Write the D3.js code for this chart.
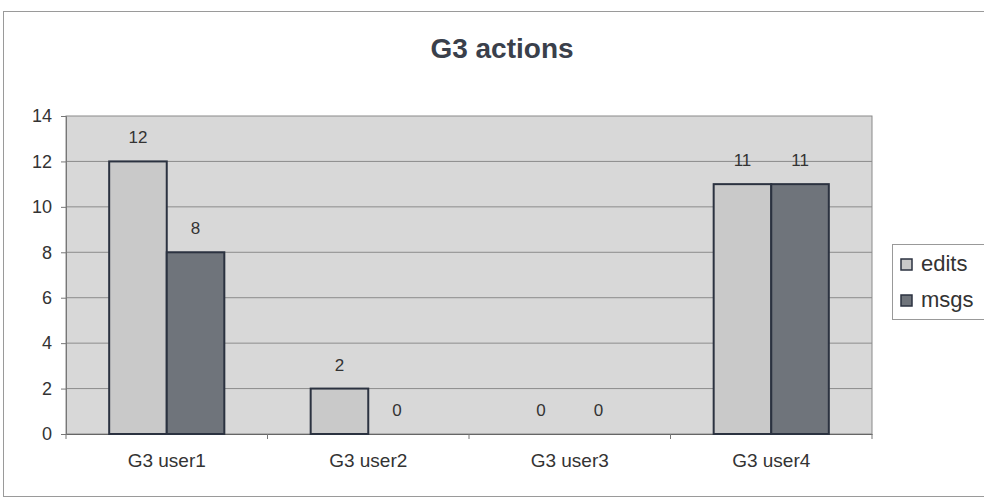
<!DOCTYPE html>
<html><head><meta charset="utf-8">
<script src="https://cdn.jsdelivr.net/npm/d3@7"></script>
<style>body{margin:0;background:#fff}svg{display:block}text{font-family:"Liberation Sans",Arial,sans-serif}</style>
</head><body><svg id="c" width="984" height="499"></svg>
<script>
const categories = ["G3 user1","G3 user2","G3 user3","G3 user4"];
const seriesNames = ["edits","msgs"];
const edits = [12,2,0,11];
const msgs = [8,0,0,11];
const yTicks = [0,2,4,6,8,10,12,14];
const colors = {edits:"#c9c9c9", msgs:"#6f747b"};

const svg = d3.select("#c");
// outer frame
svg.append("rect").attr("x",3.5).attr("y",11.5).attr("width",1000).attr("height",485)
  .attr("fill","#fff").attr("stroke","#9a9a9a");
svg.append("text").attr("x",502).attr("y",58).attr("text-anchor","middle")
  .attr("font-size",28).attr("font-weight","bold").attr("fill","#3a404b").text("G3 actions");

const L=66,R=872,T=116,B=434;
const x = d3.scaleBand().domain(categories).range([L,R]).paddingInner(0).paddingOuter(0);
const y = d3.scaleLinear().domain([0,14]).range([B,T]);
const bw = x.bandwidth()/3.5;

svg.append("rect").attr("x",L).attr("y",T).attr("width",R-L).attr("height",B-T)
  .attr("fill","#d8d8d8").attr("stroke","#8a8a8a");
svg.append("g").selectAll("line").data(yTicks.filter(d=>d>0&&d<14)).join("line")
  .attr("x1",L).attr("x2",R).attr("y1",d=>y(d)).attr("y2",d=>y(d))
  .attr("stroke","#8c8c8c").attr("stroke-width",1);

const yAxis = d3.axisLeft(y).tickValues(yTicks).tickSize(5).tickPadding(9);
const gy = svg.append("g").attr("transform",`translate(${L},0)`).call(yAxis);
gy.selectAll("text").attr("font-size",18).attr("fill","#333");
gy.selectAll("line,path").attr("stroke","#777");

const xAxis = d3.axisBottom(x).tickSize(0).tickPadding(20);
const gx = svg.append("g").attr("transform",`translate(0,${B})`).call(xAxis);
gx.selectAll("text").attr("font-size",19).attr("fill","#333");
gx.select("path").attr("stroke","#666");
svg.append("g").selectAll("line").data(d3.range(categories.length+1)).join("line")
  .attr("x1",i=>L+i*x.step()).attr("x2",i=>L+i*x.step()).attr("y1",B).attr("y2",B+5).attr("stroke","#777");

const data = [];
categories.forEach((c,i)=>{
  data.push({c,s:"edits",v:edits[i],k:0});
  data.push({c,s:"msgs",v:msgs[i],k:1});
});
const bx = d=> x(d.c)+x.bandwidth()/2 - bw + d.k*bw;
svg.append("g").selectAll("rect").data(data.filter(d=>d.v>0)).join("rect")
  .attr("x",bx).attr("y",d=>y(d.v)).attr("width",bw).attr("height",d=>B-y(d.v))
  .attr("fill",d=>colors[d.s]).attr("stroke","#2b3240").attr("stroke-width",2);
svg.append("g").selectAll("text").data(data).join("text")
  .attr("x",d=>bx(d)+bw/2).attr("y",d=>y(d.v)-18).attr("text-anchor","middle")
  .attr("font-size",17).attr("fill","#333").text(d=>d.v);

// legend
const lg = svg.append("g");
lg.append("rect").attr("x",892.5).attr("y",244.5).attr("width",110).attr("height",75)
  .attr("fill","#fff").attr("stroke","#999");
seriesNames.forEach((s,i)=>{
  const yy = 264+i*36;
  lg.append("rect").attr("x",901).attr("y",yy-5).attr("width",11).attr("height",11)
    .attr("fill",colors[s]).attr("stroke","#2b3240").attr("stroke-width",1.5);
  lg.append("text").attr("x",921).attr("y",yy+7).attr("font-size",22).attr("fill","#333").text(s);
});
</script></body></html>
